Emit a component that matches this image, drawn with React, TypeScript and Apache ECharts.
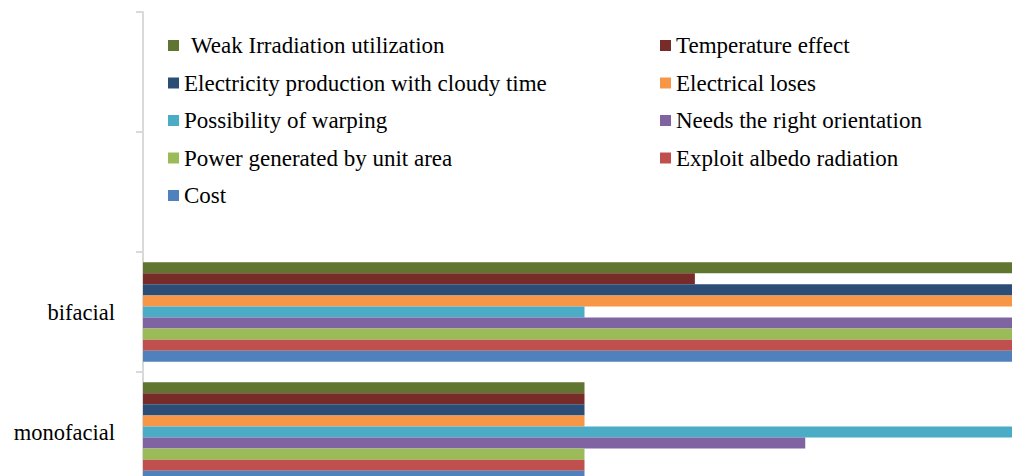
import React, { useEffect, useRef } from "react";
import * as echarts from "echarts";

const categories = ["monofacial", "bifacial", "", ""];

const seriesNames = [
  "Weak Irradiation utilization",
  "Temperature effect",
  "Electricity production with cloudy time",
  "Electrical loses",
  "Possibility of warping",
  "Needs the right orientation",
  "Power generated by unit area",
  "Exploit albedo radiation",
  "Cost",
];

// values per series: [monofacial, bifacial, (empty), (empty)]
const weakIrradiation = [2, 4, null, null];
const temperatureEffect = [2, 2.5, null, null];
const cloudyProduction = [2, 4, null, null];
const electricalLoses = [2, 4, null, null];
const warping = [4, 2, null, null];
const orientation = [3, 4, null, null];
const powerPerArea = [2, 4, null, null];
const albedo = [2, 4, null, null];
const cost = [2, 4, null, null];

const seriesValues = [
  weakIrradiation,
  temperatureEffect,
  cloudyProduction,
  electricalLoses,
  warping,
  orientation,
  powerPerArea,
  albedo,
  cost,
];

const colors = [
  "#5f7530",
  "#772c2a",
  "#2c4d75",
  "#f79646",
  "#4bacc6",
  "#8064a2",
  "#9bbb59",
  "#c0504d",
  "#4f81bd",
];

const leftLegend = [0, 2, 4, 6, 8];
const rightLegend = [1, 3, 5, 7];

const FONT = "Liberation Serif";

export default function App() {
  const ref = useRef<HTMLDivElement>(null);
  useEffect(() => {
    if (!ref.current) return;
    const chart = echarts.init(ref.current, undefined, { renderer: "svg" });
    const legendText = {
      fontFamily: FONT,
      fontSize: 23,
      color: "#000",
      rich: {
        t: { fontFamily: FONT, fontSize: 23, color: "#000" },
        w: { fontFamily: FONT, fontSize: 23, color: "#000", padding: [0, 0, 0, 7] },
      },
    };
    const legendBase = {
      orient: "vertical" as const,
      top: 34,
      padding: 0,
      icon: "rect",
      itemWidth: 11,
      itemHeight: 11,
      itemGap: 14.5,
      textStyle: legendText,
      formatter: (name: string) =>
        name === seriesNames[0] ? `{w|${name}}` : `{t|${name}}`,
    };
    const series = seriesNames.map((name, i) => ({
      name,
      type: "bar" as const,
      data: seriesValues[i],
      itemStyle: { color: colors[i] },
      barGap: "0%",
      barCategoryGap: "17%",
    }));
    chart.setOption({
      animation: false,
      textStyle: { fontFamily: FONT },
      grid: {
        left: 143,
        top: 12,
        height: 480,
        width: 883,
        containLabel: false,
        outerBoundsMode: "none",
      },
      legend: [
        {
          ...legendBase,
          left: 168,
          data: leftLegend.map((i) => ({ name: seriesNames[i] })),
        },
        {
          ...legendBase,
          left: 660,
          data: rightLegend.map((i) => ({ name: seriesNames[i] })),
        },
      ],
      xAxis: {
        type: "value",
        min: 0,
        max: 4,
        show: false,
      },
      yAxis: {
        type: "category",
        data: categories,
        axisLine: { show: true, lineStyle: { color: "#d9d9d9", width: 2 } },
        axisTick: { show: true, length: 7, lineStyle: { color: "#d9d9d9", width: 2 } },
        axisLabel: { margin: 28, fontFamily: FONT, fontSize: 22.5, color: "#000" },
        splitLine: { show: false },
      },
      series,
    });
    return () => chart.dispose();
  }, []);
  return (
    <div
      ref={ref}
      style={{
        position: "fixed",
        left: 0,
        top: 0,
        width: 1012,
        height: 476,
        overflow: "hidden",
        background: "#fff",
      }}
    />
  );
}
